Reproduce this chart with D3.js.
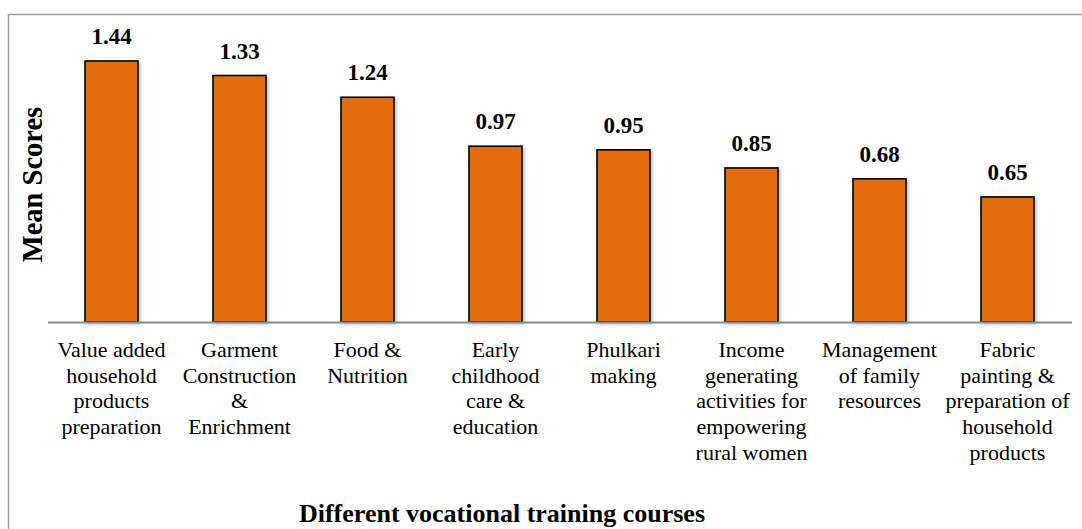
<!DOCTYPE html>
<html>
<head>
<meta charset="utf-8">
<script src="https://cdn.jsdelivr.net/npm/d3@7"></script>
<style>
  html, body { margin: 0; padding: 0; background: #fff; }
  svg { display: block; }
</style>
</head>
<body>
<svg id="chart" width="1082" height="529"></svg>
<script>
// Categories (line breaks as in the reference)
const categories = [
  "Value added\nhousehold\nproducts\npreparation",
  "Garment\nConstruction\n&\nEnrichment",
  "Food &\nNutrition",
  "Early\nchildhood\ncare &\neducation",
  "Phulkari\nmaking",
  "Income\ngenerating\nactivities for\nempowering\nrural women",
  "Management\nof family\nresources",
  "Fabric\npainting &\npreparation of\nhousehold\nproducts"
];
// Bar heights as drawn in the picture
const barValues = [1.44, 1.36, 1.24, 0.97, 0.95, 0.85, 0.79, 0.69];
// Data labels as printed above the bars
const valueLabels = ["1.44", "1.33", "1.24", "0.97", "0.95", "0.85", "0.68", "0.65"];
const xTitle = "Different vocational training courses";
const yTitle = "Mean Scores";

const FONT = "'Liberation Serif', Tinos, 'Times New Roman', 'DejaVu Serif', serif";

const svg = d3.select("#chart").attr("font-family", FONT);
const W = 1082, H = 529;

const baseY = 322;
const x = d3.scaleBand()
  .domain(d3.range(categories.length))
  .range([47.5, 1071.5])
  .paddingInner(0.586)
  .paddingOuter(0.293);
const y = d3.scaleLinear().domain([0, 1.6]).range([baseY, baseY - 1.6 * 181.25]);

// Outer frame
svg.append("rect")
  .attr("x", 8.5).attr("y", 14.5)
  .attr("width", W + 10).attr("height", H)
  .attr("fill", "none").attr("stroke", "#9a9a9a").attr("stroke-width", 1.5);

// Shadow filter
const defs = svg.append("defs");
const f = defs.append("filter").attr("id", "sh").attr("x", "-20%").attr("y", "-5%").attr("width", "150%").attr("height", "115%");
f.append("feDropShadow").attr("dx", 2).attr("dy", 2).attr("stdDeviation", 1.5)
  .attr("flood-color", "#000").attr("flood-opacity", 0.25);

// Bars
svg.append("g").selectAll("rect")
  .data(barValues)
  .join("rect")
  .attr("x", (d, i) => x(i))
  .attr("y", d => y(d))
  .attr("width", x.bandwidth())
  .attr("height", d => y(0) - y(d))
  .attr("fill", "#E36C0A")
  .attr("stroke", "#000")
  .attr("stroke-width", 1.6)
  .attr("filter", "url(#sh)");

// Baseline (category axis)
const xAxis = d3.axisBottom(x).tickSize(0).tickFormat("");
const ax = svg.append("g").attr("transform", `translate(0,${baseY})`).call(xAxis);
ax.attr("font-family", FONT);
ax.select(".domain").attr("stroke", "#8a8a8a").attr("stroke-width", 2);

// Data labels
svg.append("g").selectAll("text")
  .data(barValues)
  .join("text")
  .attr("font-family", FONT)
  .attr("x", (d, i) => x(i) + x.bandwidth() / 2)
  .attr("y", d => y(d) - 17)
  .attr("text-anchor", "middle")
  .attr("font-size", 23)
  .attr("font-weight", "bold")
  .attr("fill", "#000")
  .text((d, i) => valueLabels[i]);

// Category labels
const cl = svg.append("g").selectAll("text")
  .data(categories)
  .join("text")
  .attr("font-family", FONT)
  .attr("x", (d, i) => x(i) + x.bandwidth() / 2)
  .attr("y", 357)
  .attr("text-anchor", "middle")
  .attr("font-size", 22)
  .attr("fill", "#000");
cl.each(function(d, i) {
  const t = d3.select(this);
  const cx = x(i) + x.bandwidth() / 2;
  d.split("\n").forEach((line, k) => {
    t.append("tspan").attr("x", cx).attr("y", 357 + k * 25.7).text(line);
  });
});

// Axis titles
svg.append("text")
  .attr("font-family", FONT)
  .attr("x", 502).attr("y", 522)
  .attr("text-anchor", "middle")
  .attr("font-size", 26)
  .attr("font-weight", "bold")
  .attr("fill", "#000")
  .text(xTitle);

svg.append("text")
  .attr("font-family", FONT)
  .attr("transform", "translate(41.5,184.5) rotate(-90)")
  .attr("text-anchor", "middle")
  .attr("font-size", 28.5)
  .attr("font-weight", "bold")
  .attr("fill", "#000")
  .text(yTitle);
</script>
</body>
</html>
